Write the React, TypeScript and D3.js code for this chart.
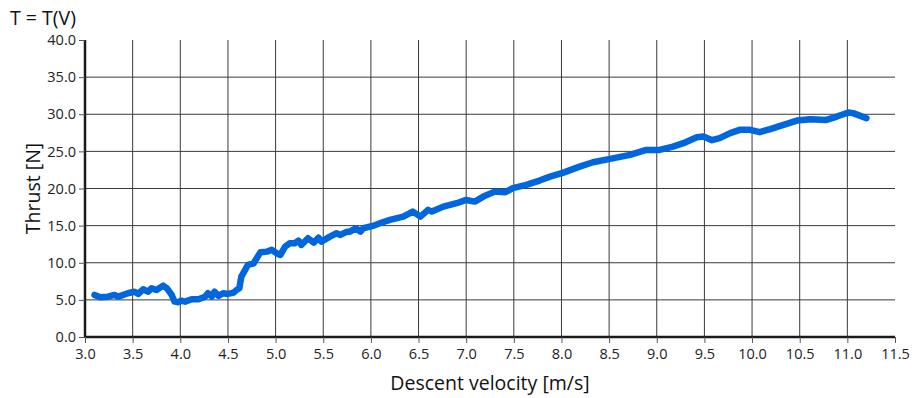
import * as d3 from "d3";
import { useEffect, useRef } from "react";

// descent velocity [m/s]
const velocity = [
	3.1, 3.16, 3.24, 3.31, 3.35, 3.45, 3.52, 3.56, 3.61, 3.66, 3.7, 3.75, 3.82, 3.86, 3.91, 3.94, 3.98,
	4.01, 4.05, 4.12, 4.19, 4.26, 4.29, 4.33, 4.36, 4.4, 4.45, 4.5, 4.56, 4.59, 4.62, 4.64, 4.66, 4.71,
	4.77, 4.84, 4.91, 4.96, 5.01, 5.05, 5.1, 5.15, 5.2, 5.24, 5.27, 5.34, 5.4, 5.45, 5.48, 5.57, 5.64,
	5.68, 5.75, 5.78, 5.84, 5.89, 5.92, 6.02, 6.1, 6.2, 6.34, 6.44, 6.52, 6.6, 6.64, 6.76, 6.9, 7.0,
	7.09, 7.18, 7.3, 7.41, 7.49, 7.63, 7.77, 7.88, 8.02, 8.19, 8.33, 8.51, 8.72, 8.89, 9.03, 9.17, 9.28,
	9.42, 9.49, 9.58, 9.66, 9.77, 9.87, 9.98, 10.08, 10.19, 10.33, 10.47, 10.61, 10.78, 10.89, 11.01,
	11.06, 11.13, 11.2,
];

// thrust [N]
const thrust = [
	5.66, 5.35, 5.43, 5.66, 5.43, 5.89, 6.1, 5.8, 6.43, 6.1, 6.56, 6.33, 6.92, 6.56, 5.66, 4.76, 4.68,
	4.89, 4.76, 5.08, 5.08, 5.43, 5.89, 5.43, 6.1, 5.53, 5.89, 5.8, 5.97, 6.33, 6.56, 8.13, 8.58, 9.7,
	9.93, 11.4, 11.5, 11.75, 11.28, 11.05, 12.17, 12.63, 12.63, 12.98, 12.4, 13.3, 12.71, 13.38, 12.84,
	13.52, 13.97, 13.75, 14.19, 14.19, 14.65, 14.19, 14.65, 14.96, 15.35, 15.77, 16.21, 16.89, 16.21,
	17.12, 16.89, 17.56, 18.02, 18.46, 18.24, 18.91, 19.58, 19.5, 20.04, 20.48, 21.07, 21.6, 22.14,
	22.95, 23.54, 23.99, 24.53, 25.2, 25.2, 25.65, 26.1, 26.91, 27.0, 26.5, 26.78, 27.45, 27.9, 27.9,
	27.59, 28.0, 28.57, 29.15, 29.34, 29.24, 29.69, 30.23, 30.15, 29.82, 29.47,
];

const xTicks = d3.range(3, 11.51, 0.5);
const yTicks = d3.range(0, 40.1, 5);

const W = 912;
const H = 398;
const FONT = "'Open Sans', 'Noto Sans', sans-serif";

export default function App() {
	const svgRef = useRef<SVGSVGElement>(null);

	useEffect(() => {
		if (!svgRef.current) return;
		const svg = d3.select(svgRef.current);
		svg.selectAll("*").remove();

		const left = 85;
		const right = 895;
		const top = 40;
		const bottom = 337;

		const x = d3.scaleLinear().domain([3, 11.5]).range([left, right]);
		const y = d3.scaleLinear().domain([0, 40]).range([bottom, top]);

		// grid
		const grid = svg.append("g").attr("stroke", "#3a3a3a").attr("stroke-width", 1);
		grid
			.selectAll("line.v")
			.data(xTicks.filter((t) => t > 3 && t < 11.5))
			.join("line")
			.attr("x1", (d) => x(d))
			.attr("x2", (d) => x(d))
			.attr("y1", top)
			.attr("y2", bottom);
		grid
			.selectAll("line.h")
			.data(yTicks.filter((t) => t > 0 && t < 40))
			.join("line")
			.attr("x1", left)
			.attr("x2", right)
			.attr("y1", (d) => y(d))
			.attr("y2", (d) => y(d));

		// x axis
		const xAxis = svg
			.append("g")
			.attr("transform", `translate(0,${bottom})`)
			.call(
				d3
					.axisBottom(x)
					.tickValues(xTicks)
					.tickFormat((d) => d3.format(".1f")(d as number))
					.tickSize(6)
					.tickPadding(6),
			);
		xAxis.select(".domain").attr("stroke", "#1a1a1a").attr("stroke-width", 2.5).attr("d", `M${left},0H${right}`);
		xAxis.selectAll(".tick line").attr("stroke", "#555");
		xAxis
			.selectAll(".tick text")
			.attr("font-family", FONT)
			.attr("font-size", 14.5)
			.attr("fill", "#222");

		// y axis
		const yAxis = svg
			.append("g")
			.attr("transform", `translate(${left},0)`)
			.call(
				d3
					.axisLeft(y)
					.tickValues(yTicks)
					.tickFormat((d) => d3.format(".1f")(d as number))
					.tickSize(6)
					.tickPadding(3),
			);
		yAxis.select(".domain").attr("stroke", "#1a1a1a").attr("stroke-width", 2.5).attr("d", `M0,${top}V${bottom}`);
		yAxis.selectAll(".tick line").attr("stroke", "#555");
		yAxis
			.selectAll(".tick text")
			.attr("font-family", FONT)
			.attr("font-size", 14.5)
			.attr("fill", "#222");

		// data line
		const pts = velocity.map((v, i) => [v, thrust[i]] as [number, number]);
		svg
			.append("path")
			.datum(pts)
			.attr("fill", "none")
			.attr("stroke", "#0066dd")
			.attr("stroke-width", 6.5)
			.attr("stroke-linejoin", "round")
			.attr("stroke-linecap", "round")
			.attr(
				"d",
				d3
					.line<[number, number]>()
					.x((d) => x(d[0]))
					.y((d) => y(d[1])),
			);

		// titles
		svg
			.append("text")
			.attr("x", 10)
			.attr("y", 25)
			.attr("font-family", FONT)
			.attr("font-size", 19.5)
			.attr("fill", "#111")
			.text("T = T(V)");

		svg
			.append("text")
			.attr("transform", `translate(40,${(top + bottom) / 2}) rotate(-90)`)
			.attr("text-anchor", "middle")
			.attr("font-family", FONT)
			.attr("font-size", 19.5)
			.attr("fill", "#111")
			.text("Thrust [N]");

		svg
			.append("text")
			.attr("x", (left + right) / 2)
			.attr("y", 390)
			.attr("text-anchor", "middle")
			.attr("font-family", FONT)
			.attr("font-size", 19.5)
			.attr("fill", "#111")
			.text("Descent velocity [m/s]");
	}, []);

	return (
		<svg
			ref={svgRef}
			width={W}
			height={H}
			style={{ position: "absolute", left: 0, top: 0, background: "#fff" }}
		/>
	);
}
